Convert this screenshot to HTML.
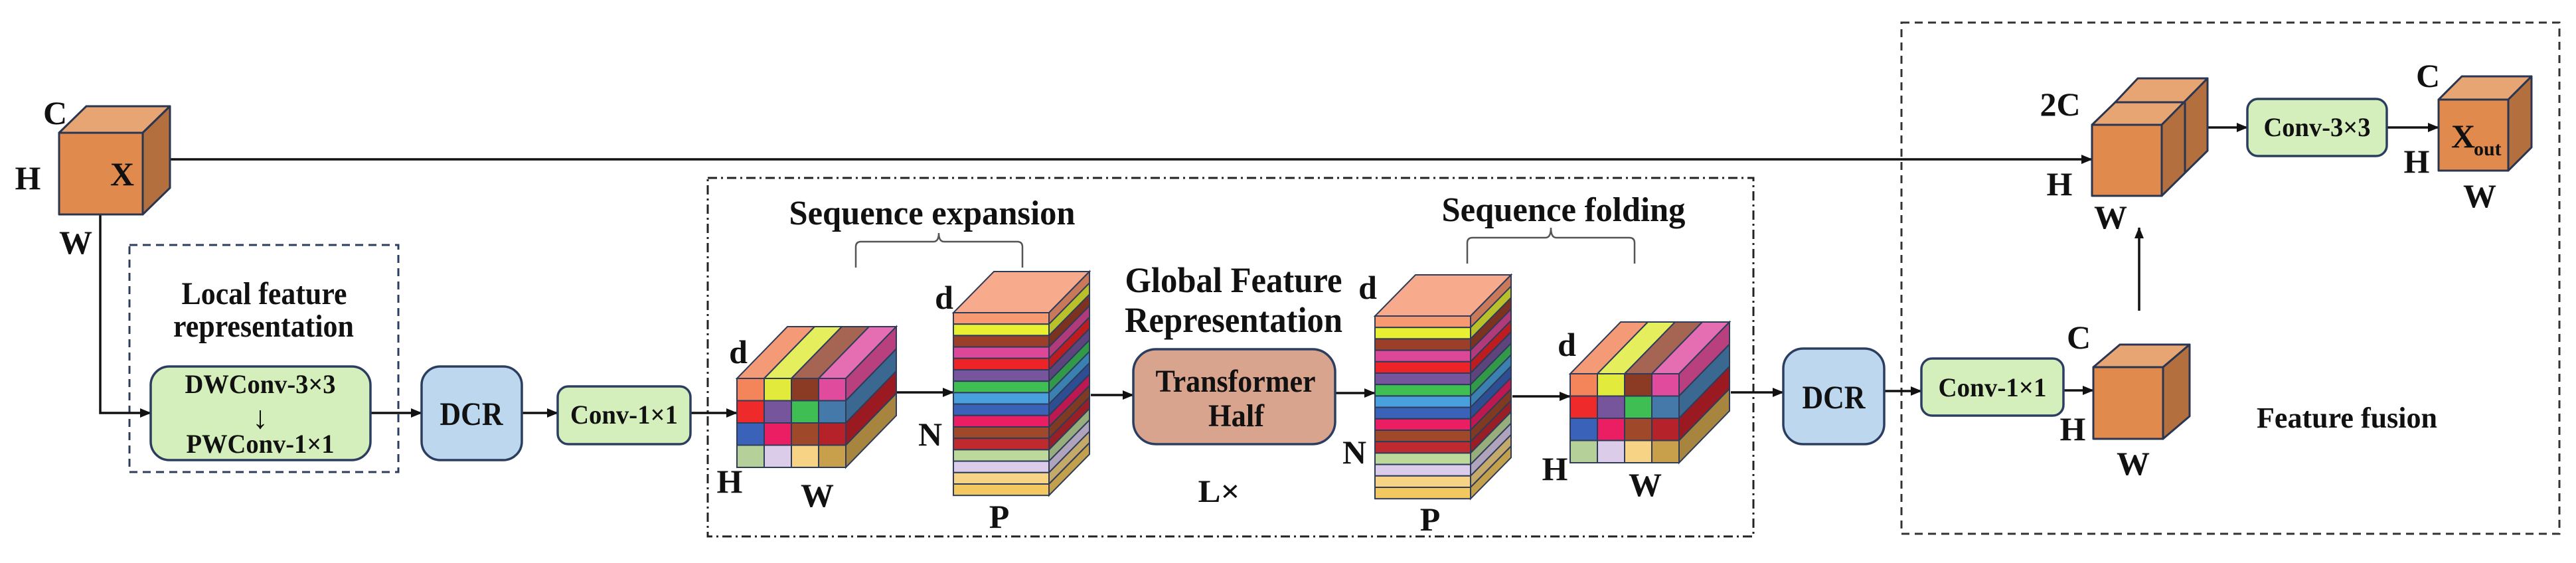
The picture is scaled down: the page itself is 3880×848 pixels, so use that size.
<!DOCTYPE html>
<html><head><meta charset="utf-8"><style>
html,body{margin:0;padding:0;background:#fff;}
svg{display:block;}
svg text{font-family:"Liberation Serif","DejaVu Serif",serif;font-weight:bold;fill:#111;}
</style></head><body>
<svg width="3880" height="848" viewBox="0 0 3880 848" xmlns="http://www.w3.org/2000/svg" font-family="Liberation Serif, DejaVu Serif, serif" font-weight="bold">
<defs>
<marker id="ah" markerWidth="18" markerHeight="16" refX="16" refY="8" orient="auto" markerUnits="userSpaceOnUse">
<path d="M0,1 L17,8 L0,15 Z" fill="#111"/></marker>
<g id="stack" stroke="#2e3c5a" stroke-width="2">
<g transform="matrix(1,0,61,-62,0,0)"><rect x="0" y="0" width="144" height="1" fill="#f7ab8c" vector-effect="non-scaling-stroke"/></g>
<rect x="0" y="0" width="144" height="17.2" fill="#f79a72"/>
<rect x="0" y="17.2" width="144" height="17.2" fill="#e9f032"/>
<rect x="0" y="34.4" width="144" height="17.2" fill="#9c3f28"/>
<rect x="0" y="51.6" width="144" height="17.2" fill="#dc4797"/>
<rect x="0" y="68.8" width="144" height="17.2" fill="#ee2327"/>
<rect x="0" y="86" width="144" height="17.2" fill="#76559c"/>
<rect x="0" y="103.2" width="144" height="17.2" fill="#3fbe54"/>
<rect x="0" y="120.4" width="144" height="17.2" fill="#4aa0dc"/>
<rect x="0" y="137.6" width="144" height="17.2" fill="#3a62b8"/>
<rect x="0" y="154.8" width="144" height="17.2" fill="#ec1e63"/>
<rect x="0" y="172" width="144" height="17.2" fill="#a0492a"/>
<rect x="0" y="189.2" width="144" height="17.2" fill="#be2a2e"/>
<rect x="0" y="206.4" width="144" height="17.2" fill="#bcd89a"/>
<rect x="0" y="223.6" width="144" height="17.2" fill="#dbcdea"/>
<rect x="0" y="240.8" width="144" height="17.2" fill="#f7d385"/>
<rect x="0" y="258" width="144" height="17.2" fill="#f4c860"/>
<g transform="matrix(61,-62,0,1,144,0)">
<rect x="0" y="0" width="1" height="17.2" fill="#c9795a" vector-effect="non-scaling-stroke"/>
<rect x="0" y="17.2" width="1" height="17.2" fill="#b9c02a" vector-effect="non-scaling-stroke"/>
<rect x="0" y="34.4" width="1" height="17.2" fill="#7d3220" vector-effect="non-scaling-stroke"/>
<rect x="0" y="51.6" width="1" height="17.2" fill="#b03a7a" vector-effect="non-scaling-stroke"/>
<rect x="0" y="68.8" width="1" height="17.2" fill="#be1d20" vector-effect="non-scaling-stroke"/>
<rect x="0" y="86" width="1" height="17.2" fill="#5e447d" vector-effect="non-scaling-stroke"/>
<rect x="0" y="103.2" width="1" height="17.2" fill="#32984a" vector-effect="non-scaling-stroke"/>
<rect x="0" y="120.4" width="1" height="17.2" fill="#3a80b0" vector-effect="non-scaling-stroke"/>
<rect x="0" y="137.6" width="1" height="17.2" fill="#2e4e93" vector-effect="non-scaling-stroke"/>
<rect x="0" y="154.8" width="1" height="17.2" fill="#bd184f" vector-effect="non-scaling-stroke"/>
<rect x="0" y="172" width="1" height="17.2" fill="#803a22" vector-effect="non-scaling-stroke"/>
<rect x="0" y="189.2" width="1" height="17.2" fill="#981f25" vector-effect="non-scaling-stroke"/>
<rect x="0" y="206.4" width="1" height="17.2" fill="#97ad7b" vector-effect="non-scaling-stroke"/>
<rect x="0" y="223.6" width="1" height="17.2" fill="#afa4bb" vector-effect="non-scaling-stroke"/>
<rect x="0" y="240.8" width="1" height="17.2" fill="#c5a96a" vector-effect="non-scaling-stroke"/>
<rect x="0" y="258" width="1" height="17.2" fill="#c3a04c" vector-effect="non-scaling-stroke"/>
</g>
</g>
<g id="grid" stroke="#2e3c5a" stroke-width="2">
<g transform="matrix(1,0,76,-78,0,0)">
<rect x="0" y="0" width="41" height="1" fill="#f59a77" vector-effect="non-scaling-stroke"/>
<rect x="41" y="0" width="41" height="1" fill="#e5ef5e" vector-effect="non-scaling-stroke"/>
<rect x="82" y="0" width="41" height="1" fill="#a56552" vector-effect="non-scaling-stroke"/>
<rect x="123" y="0" width="41" height="1" fill="#e56eb3" vector-effect="non-scaling-stroke"/>
</g>
<g transform="matrix(76,-78,0,1,164,0)">
<rect x="0" y="0" width="1" height="33.5" fill="#b8407f" vector-effect="non-scaling-stroke"/>
<rect x="0" y="33.5" width="1" height="33.5" fill="#3a6890" vector-effect="non-scaling-stroke"/>
<rect x="0" y="67" width="1" height="33.5" fill="#9b1a22" vector-effect="non-scaling-stroke"/>
<rect x="0" y="100.5" width="1" height="33.5" fill="#a8853e" vector-effect="non-scaling-stroke"/>
</g>
<rect x="0" y="0" width="41" height="33.5" fill="#f4845a"/>
<rect x="41" y="0" width="41" height="33.5" fill="#e2ea3c"/>
<rect x="82" y="0" width="41" height="33.5" fill="#8b3a24"/>
<rect x="123" y="0" width="41" height="33.5" fill="#e04b9e"/>
<rect x="0" y="33.5" width="41" height="33.5" fill="#ee2a2a"/>
<rect x="41" y="33.5" width="41" height="33.5" fill="#76559c"/>
<rect x="82" y="33.5" width="41" height="33.5" fill="#3fbe54"/>
<rect x="123" y="33.5" width="41" height="33.5" fill="#4579aa"/>
<rect x="0" y="67" width="41" height="33.5" fill="#3a62b8"/>
<rect x="41" y="67" width="41" height="33.5" fill="#ec1e63"/>
<rect x="82" y="67" width="41" height="33.5" fill="#a0492a"/>
<rect x="123" y="67" width="41" height="33.5" fill="#b52229"/>
<rect x="0" y="100.5" width="41" height="33.5" fill="#b6d09a"/>
<rect x="41" y="100.5" width="41" height="33.5" fill="#dbcdea"/>
<rect x="82" y="100.5" width="41" height="33.5" fill="#f7d385"/>
<rect x="123" y="100.5" width="41" height="33.5" fill="#c8a04c"/>
</g>
</defs>

<rect x="195" y="369" width="405" height="342" fill="none" stroke="#2c3e60" stroke-width="3" stroke-dasharray="12 8"/>
<rect x="1066" y="268" width="1575" height="540" fill="none" stroke="#222" stroke-width="3" stroke-dasharray="14 6 3 6"/>
<rect x="2864" y="34" width="991" height="770" fill="none" stroke="#333" stroke-width="3" stroke-dasharray="12 8"/>

<g stroke="#111" stroke-width="3.5" fill="none">
<path d="M256,240 H3151" marker-end="url(#ah)"/>
<path d="M151,323 V622 H227" marker-end="url(#ah)"/>
<path d="M558,622 H635" marker-end="url(#ah)"/>
<path d="M786,622 H840" marker-end="url(#ah)"/>
<path d="M1040,622 H1110" marker-end="url(#ah)"/>
<path d="M1350,591 H1436" marker-end="url(#ah)"/>
<path d="M1643,595 H1707" marker-end="url(#ah)"/>
<path d="M2011,592 H2071" marker-end="url(#ah)"/>
<path d="M2278,597 H2365" marker-end="url(#ah)"/>
<path d="M2607,591 H2686" marker-end="url(#ah)"/>
<path d="M2838,589 H2894" marker-end="url(#ah)"/>
<path d="M3108,588 H3153" marker-end="url(#ah)"/>
<path d="M3222,468 V343" marker-end="url(#ah)"/>
<path d="M3325,192 H3385" marker-end="url(#ah)"/>
<path d="M3595,192 H3673" marker-end="url(#ah)"/>
</g>

<g stroke="#555" stroke-width="2.5" fill="none">
<path d="M1289,403 V372 Q1289,364 1297,364 H1406 Q1414,364 1414,351 Q1414,364 1422,364 H1532 Q1540,364 1540,372 V403"/>
<path d="M2210,397 V366 Q2210,358 2218,358 H2328 Q2336,358 2336,343 Q2336,358 2344,358 H2454 Q2462,358 2462,366 V397"/>
</g>

<g stroke="#2a3550" stroke-width="3" stroke-linejoin="round">
<polygon points="89,200 130,160 256,160 215,200" fill="#e8a574"/>
<polygon points="215,200 256,160 256,283 215,323" fill="#b3703e"/>
<rect x="89" y="200" width="126" height="123" fill="#e08a4e"/>

<polygon points="3186,154 3220,118 3325,118 3291,154" fill="#e8a574"/>
<polygon points="3151,188 3186,154 3291,154 3256,188" fill="#e8a574"/>
<polygon points="3256,188 3325,118 3325,227 3256,295" fill="#b3703e"/>
<line x1="3291" y1="154" x2="3291" y2="261"/>
<rect x="3151" y="188" width="105" height="107" fill="#e08a4e"/>

<polygon points="3153,553 3193,519 3298,519 3258,553" fill="#e8a574"/>
<polygon points="3258,553 3298,519 3298,627 3258,661" fill="#b3703e"/>
<rect x="3153" y="553" width="105" height="108" fill="#e08a4e"/>

<polygon points="3673,150 3708,115 3813,115 3778,150" fill="#e8a574"/>
<polygon points="3778,150 3813,115 3813,222 3778,257" fill="#b3703e"/>
<rect x="3673" y="150" width="105" height="107" fill="#e08a4e"/>
</g>

<use href="#grid" transform="translate(1110,570)"/>
<use href="#grid" transform="translate(2365,563)"/>
<use href="#stack" transform="translate(1436,471)"/>
<use href="#stack" transform="translate(2071,476)"/>

<g stroke="#2c3e60" stroke-width="3.5">
<rect x="227" y="552" width="331" height="141" rx="28" fill="#d5efbc"/>
<rect x="635" y="552" width="151" height="141" rx="28" fill="#bdd7ee"/>
<rect x="840" y="582" width="200" height="87" rx="16" fill="#d5efbc"/>
<rect x="1707" y="526" width="304" height="143" rx="34" fill="#d9a48e"/>
<rect x="2686" y="525" width="152" height="144" rx="30" fill="#bdd7ee"/>
<rect x="2894" y="540" width="214" height="86" rx="16" fill="#d5efbc"/>
<rect x="3385" y="149" width="210" height="86" rx="16" fill="#d5efbc"/>
</g>

<g text-anchor="middle" font-family="Liberation Serif, DejaVu Serif, serif" font-weight="bold">
<text x="398" y="458" font-size="48" textLength="249" lengthAdjust="spacingAndGlyphs">Local feature</text>
<text x="397" y="507" font-size="48" textLength="272" lengthAdjust="spacingAndGlyphs">representation</text>
<text x="392" y="592" font-size="40" textLength="227" lengthAdjust="spacingAndGlyphs">DWConv-3×3</text>
<text x="392" y="645" font-size="48" font-weight="normal">↓</text>
<text x="392" y="682" font-size="40" textLength="223" lengthAdjust="spacingAndGlyphs">PWConv-1×1</text>
<text x="710" y="640" font-size="50" textLength="95" lengthAdjust="spacingAndGlyphs">DCR</text>
<text x="940" y="638" font-size="40" textLength="162" lengthAdjust="spacingAndGlyphs">Conv-1×1</text>
<text x="1404" y="338" font-size="52" textLength="431" lengthAdjust="spacingAndGlyphs">Sequence expansion</text>
<text x="1858" y="440" font-size="54" textLength="327" lengthAdjust="spacingAndGlyphs">Global Feature</text>
<text x="1858" y="500" font-size="54" textLength="328" lengthAdjust="spacingAndGlyphs">Representation</text>
<text x="1861" y="590" font-size="48" textLength="241" lengthAdjust="spacingAndGlyphs">Transformer</text>
<text x="1862" y="642" font-size="48" textLength="84" lengthAdjust="spacingAndGlyphs">Half</text>
<text x="1836" y="756" font-size="48" textLength="63" lengthAdjust="spacingAndGlyphs">L×</text>
<text x="2355" y="333" font-size="52" textLength="367" lengthAdjust="spacingAndGlyphs">Sequence folding</text>
<text x="2762" y="615" font-size="50" textLength="95" lengthAdjust="spacingAndGlyphs">DCR</text>
<text x="3001" y="597" font-size="40" textLength="163" lengthAdjust="spacingAndGlyphs">Conv-1×1</text>
<text x="3490" y="205" font-size="40" textLength="161" lengthAdjust="spacingAndGlyphs">Conv-3×3</text>
<text x="3535" y="644" font-size="44" textLength="272" lengthAdjust="spacingAndGlyphs">Feature fusion</text>
</g>
<g text-anchor="middle" font-size="50" font-family="Liberation Serif, DejaVu Serif, serif" font-weight="bold">
<text x="83" y="187">C</text>
<text x="42" y="285">H</text>
<text x="184" y="279">X</text>
<text x="114" y="382">W</text>
<text x="1112" y="547">d</text>
<text x="1099" y="742">H</text>
<text x="1231" y="763">W</text>
<text x="1422" y="465">d</text>
<text x="1401" y="671">N</text>
<text x="1505" y="795">P</text>
<text x="2060" y="450">d</text>
<text x="2040" y="698">N</text>
<text x="2154" y="799">P</text>
<text x="2360" y="536">d</text>
<text x="2342" y="723">H</text>
<text x="2478" y="747">W</text>
<text x="3103" y="174">2C</text>
<text x="3102" y="294">H</text>
<text x="3179" y="344">W</text>
<text x="3131" y="525">C</text>
<text x="3122" y="663">H</text>
<text x="3213" y="715">W</text>
<text x="3657" y="131">C</text>
<text x="3640" y="260">H</text>
<text x="3735" y="312">W</text>
</g>
<text x="3692" y="222" font-size="50" font-family="Liberation Serif, DejaVu Serif, serif" font-weight="bold">X</text>
<text x="3726" y="234" font-size="30" font-family="Liberation Serif, DejaVu Serif, serif" font-weight="bold">out</text>
</svg>
</body></html>
